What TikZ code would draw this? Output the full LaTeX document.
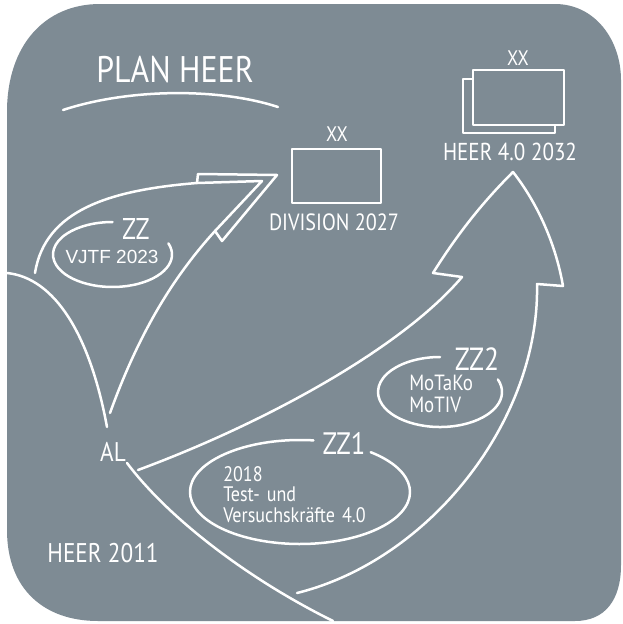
\documentclass[tikz,border=0pt]{standalone}
\usepackage{fontspec}
\setmainfont{PT Sans}
\newfontfamily\hand[FakeStretch=0.86]{PT Sans}
\newfontfamily\plainsans{Liberation Sans}
\definecolor{bg}{RGB}{126,139,148}
\begin{document}
\begin{tikzpicture}[x=1pt,y=-1pt,line width=2.5pt,line cap=round,line join=round]
\tikzset{
  wl/.style={draw=white},
  lbl/.style={text=white,inner sep=0pt,font=\hand},
  fs/.style={font=\hand\fontsize{#1}{#1}\selectfont},
}
\useasboundingbox (0,0) rectangle (623,624);
\fill[white] (0,0) rectangle (623,624);
% background panel
\fill[bg] (7,112) .. controls (7,45) and (45,4) .. (100,4) -- (555,4)
  .. controls (595,4) and (621,40) .. (621,80) -- (621,565)
  .. controls (621,600) and (605,621) .. (575,621) -- (98,621)
  .. controls (45,621) and (7,590) .. (7,530) -- cycle;

% title
\node[lbl,fs=37] (title) at (175,70) {PLAN HEER};
\draw[wl] (63,110) .. controls (130,88) and (220,88) .. (278,107);

% division box
\node[draw=white,line width=2.5pt,minimum width=89pt,minimum height=54pt,inner sep=0pt] (div) at (336.5,176) {};
\node[lbl,fs=21] (divxx) at (337,134) {XX};
\node[lbl,fs=23.5] (divtxt) at (334,222) {DIVISION 2027};

% heer 4.0 boxes
\node[draw=white,minimum width=92pt,minimum height=54pt,inner sep=0pt] (hback) at (509,106) {};
\node[draw=white,fill=bg,minimum width=91pt,minimum height=55pt,inner sep=0pt] (hfront) at (518.5,97.5) {};
\node[lbl,fs=21] (hxx) at (518,58) {XX};
\node[lbl,fs=24.5] (htxt) at (510,152) {HEER 4.0 2032};

% left curve through AL
\node[lbl,fs=27] (al) at (113,452) {AL};
\draw[wl] (7,273) .. controls (55,278) and (90,335) .. (107,427);
\draw[wl] (127,463) .. controls (170,520) and (250,580) .. (333,621);

% VJTF arrow
\draw[wl] (35,273) .. controls (45,210) and (110,190) .. (197,183)
  -- (198,174) -- (277,175) -- (222,241) -- (215,231)
  .. controls (175,275) and (140,330) .. (110,413);
\draw[wl] (197,183) -- (262,181) -- (215,231);

% ZZ ellipse
\draw[wl] (112.5,254.5) ++(-20:59.5 and 32.5) arc[start angle=-20,end angle=270,x radius=59.5,y radius=32.5];
\node[lbl,fs=30] (zz) at (136,229) {ZZ};
\node[text=white,inner sep=0pt,font=\plainsans\fontsize{19}{19}\selectfont] (vjtf) at (112,257) {VJTF 2023};

% big arrow
\draw[wl] (138,470) .. controls (260,425) and (400,350) .. (462,277)
  -- (433,273) .. controls (460,230) and (485,200) .. (513,172)
  .. controls (535,200) and (555,240) .. (563,286)
  -- (537,284) .. controls (540,420) and (430,560) .. (297,593);

% ZZ1 ellipse
\draw[wl] (300,492) ++(-50:110 and 52) arc[start angle=-50,end angle=277,x radius=110,y radius=52];
\node[lbl,fs=31] (zz1) at (344,443) {ZZ1};
\node[lbl,fs=21,align=left,anchor=north west,text width=170pt] (t2018) at (222,465)
  {\baselineskip=20pt 2018\\Test- und\\Versuchskräfte 4.0};

% ZZ2 ellipse
\draw[wl] (440,392) ++(-21:62 and 35) arc[start angle=-21,end angle=270,x radius=62,y radius=35];
\node[lbl,fs=32] (zz2) at (477,359) {ZZ2};
\node[lbl,fs=22,align=left,anchor=west] (motako) at (408,383) {MoTaKo};
\node[lbl,fs=22,align=left,anchor=west] (motiv) at (408,405) {MoTIV};

% Heer 2011
\node[lbl,fs=27] (h2011) at (103,553) {HEER 2011};
\end{tikzpicture}
\end{document}
